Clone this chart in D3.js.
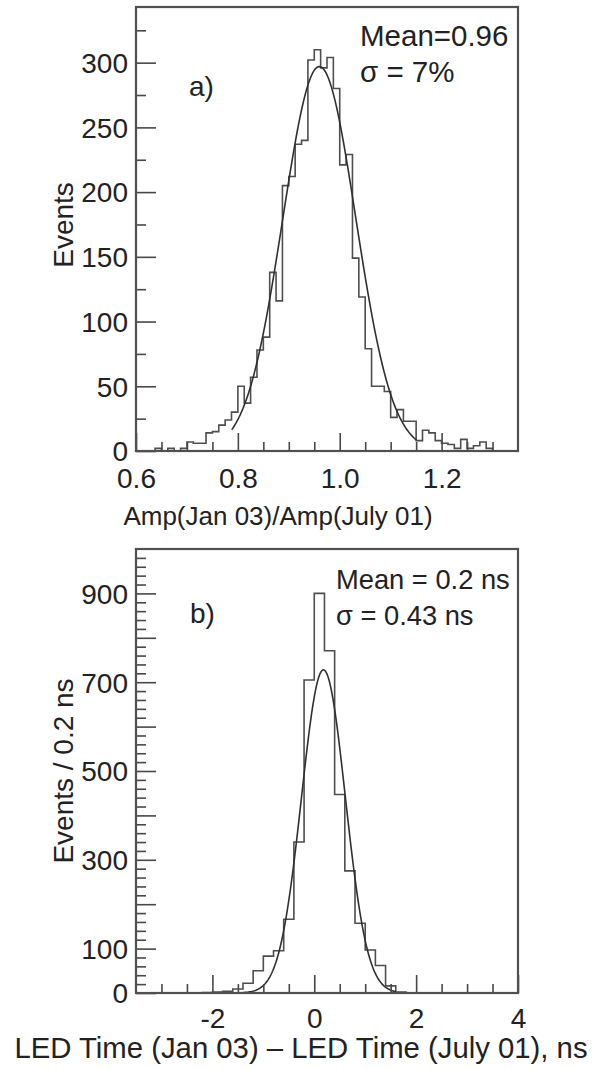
<!DOCTYPE html>
<html><head><meta charset="utf-8">
<script src="https://cdn.jsdelivr.net/npm/d3@7"></script>
<style>
html,body{margin:0;padding:0;background:#fff;}
svg{display:block;}
text{font-family:"Liberation Sans", Arial, Helvetica, sans-serif; fill:#222;}
</style></head><body>
<svg id="chart" width="592" height="1070"></svg>
<script>
// ---------- Panel a data ----------
const ampBinStart = 0.6;
const ampBinWidth = 0.0125;
const ampCounts = [0,0,0,2,0,2,0,2,7,6,6,14,15,20,24,30,50,37,57,78,88,138,116,205,212,237,240,302,310,296,304,280,221,229,149,119,79,50,50,46,26,32,23,23,8,16,14,8,6,5,2,9,2,4,7,2,0,0,0,0];
const ampFit = [297, 0.96, 0.0715, 0.788, 1.151]; // amplitude, mean, sigma, fit from, fit to
const ampXDomain = [0.6, 1.35];
const ampYDomain = [0, 343];
const ampXMajor = [0.6, 0.8, 1.0, 1.2];
const ampXLabels = ["0.6", "0.8", "1.0", "1.2"];
const ampXMinor = [0.65,0.7,0.75,0.85,0.9,0.95,1.05,1.1,1.15,1.25,1.3];
const ampYMajor = [0, 50, 100, 150, 200, 250, 300];
const ampYLabels = ["0", "50", "100", "150", "200", "250", "300"];
const ampYMinor = [25, 75, 125, 175, 225, 275, 325];
const ampStats = ["Mean=0.96", "σ = 7%"];

// ---------- Panel b data ----------
const timeBinStart = -3.4;
const timeBinWidth = 0.2;
const timeCounts = [0,0,0,0,0,0,1,2,4,9,22,50,83,95,166,340,705,900,771,447,275,157,97,62,16,2,0,0,0,0,0,0,0,0,0,0,0];
const timeFit = [728, 0.18, 0.43, -2.2, 1.6];
const timeXDomain = [-3.5, 4];
const timeYDomain = [0, 1000];
const timeXMajor = [-2, 0, 2, 4];
const timeXLabels = ["-2", "0", "2", "4"];
const timeXMinor = [-3, -2.5, -1.5, -1, -0.5, 0.5, 1, 1.5, 2.5, 3, 3.5];
const timeYMajor = [0, 100, 200, 300, 400, 500, 600, 700, 800, 900];
const timeYLabeled = [0, 100, 300, 500, 700, 900];
const timeYLabels = ["0", "100", "300", "500", "700", "900"];
const timeYMinor = d3.range(20, 1000, 20).filter(v => v % 100 !== 0);
const timeStats = ["Mean = 0.2 ns", "σ = 0.43 ns"];

const svg = d3.select("#chart");
const LINE = "#484848";

function panel(cfg) {
  const g = svg.append("g");
  const x = d3.scaleLinear().domain(cfg.xDomain).range([cfg.left, cfg.right]);
  const y = d3.scaleLinear().domain(cfg.yDomain).range([cfg.bottom, cfg.top]);

  // histogram steps
  const pts = [[cfg.binStart, 0]];
  cfg.counts.forEach((c, i) => {
    const x0 = cfg.binStart + i * cfg.binWidth, x1 = x0 + cfg.binWidth;
    pts.push([x0, c], [x1, c]);
  });
  pts.push([cfg.binStart + cfg.counts.length * cfg.binWidth, 0]);
  const clipped = pts.filter(p => p[0] >= cfg.xDomain[0] - 1e-9 && p[0] <= cfg.xDomain[1] + 1e-9);
  g.append("path")
    .attr("d", d3.line().x(d => x(d[0])).y(d => y(d[1]))(clipped))
    .attr("fill", "none").attr("stroke", "#4e4e4e").attr("stroke-width", 1.6);

  // gaussian fit
  const [A, mu, s, f0, f1] = cfg.fit;
  const fitPts = d3.range(f0, f1 + 1e-9, (f1 - f0) / 200).map(v => [v, A * Math.exp(-0.5 * ((v - mu) / s) ** 2)]);
  g.append("path")
    .attr("d", d3.line().x(d => x(d[0])).y(d => y(d[1])).curve(d3.curveLinear)(fitPts))
    .attr("fill", "none").attr("stroke", "#303030").attr("stroke-width", 1.6);

  // y axis: major with labels
  const yLab = g.append("g").attr("transform", `translate(${cfg.left},0)`)
    .call(d3.axisLeft(y).tickValues(cfg.yLabeled).tickFormat((d, i) => cfg.yLabels[i]).tickSize(0).tickPadding(8));
  yLab.select(".domain").remove();
  yLab.selectAll("text").attr("font-size", 28).attr("font-family", "Liberation Sans, Arial, sans-serif").attr("fill", "#222").attr("dy", "0.35em");

  const yMaj = g.append("g").attr("transform", `translate(${cfg.left},0)`)
    .call(d3.axisLeft(y).tickValues(cfg.yMajor).tickSize(-20).tickFormat(""));
  yMaj.select(".domain").remove();
  yMaj.selectAll("line").attr("stroke", LINE).attr("stroke-width", 1.6);

  const yMin = g.append("g").attr("transform", `translate(${cfg.left},0)`)
    .call(d3.axisLeft(y).tickValues(cfg.yMinor).tickSize(-10).tickFormat(""));
  yMin.select(".domain").remove();
  yMin.selectAll("line").attr("stroke", LINE).attr("stroke-width", 1.6);

  // x axis
  const xMaj = g.append("g").attr("transform", `translate(0,${cfg.bottom})`)
    .call(d3.axisBottom(x).tickValues(cfg.xMajor).tickSize(-18).tickFormat((d, i) => cfg.xLabels[i]));
  xMaj.select(".domain").remove();
  xMaj.selectAll("line").attr("stroke", LINE).attr("stroke-width", 1.6);
  xMaj.selectAll("text").attr("font-size", 28).attr("font-family", "Liberation Sans, Arial, sans-serif").attr("fill", "#222")
    .attr("dy", null).attr("y", cfg.xLabelOffset);

  const xMin = g.append("g").attr("transform", `translate(0,${cfg.bottom})`)
    .call(d3.axisBottom(x).tickValues(cfg.xMinor).tickSize(-9).tickFormat(""));
  xMin.select(".domain").remove();
  xMin.selectAll("line").attr("stroke", LINE).attr("stroke-width", 1.6);

  // frame
  g.append("rect").attr("x", cfg.left).attr("y", cfg.top)
    .attr("width", cfg.right - cfg.left).attr("height", cfg.bottom - cfg.top)
    .attr("fill", "none").attr("stroke", "#505050").attr("stroke-width", 2.2);

  // texts
  g.append("text").attr("x", cfg.tagX).attr("y", cfg.tagY).attr("font-size", 28).text(cfg.tag);
  g.append("text").attr("x", cfg.statX).attr("y", cfg.statY1).attr("font-size", cfg.statSize).text(cfg.stats[0]);
  g.append("text").attr("x", cfg.statX).attr("y", cfg.statY2).attr("font-size", cfg.statSize).text(cfg.stats[1]);
  g.append("text").attr("x", cfg.xTitleX).attr("y", cfg.xTitleY).attr("text-anchor", "middle")
    .attr("font-size", cfg.xTitleSize).text(cfg.xTitle);
  g.append("text").attr("transform", `translate(${cfg.yTitleX},${cfg.yTitleY}) rotate(-90)`)
    .attr("text-anchor", "middle").attr("font-size", 28).text(cfg.yTitle);
}

panel({
  left: 136, right: 518, top: 7, bottom: 451,
  xDomain: ampXDomain, yDomain: ampYDomain,
  binStart: ampBinStart, binWidth: ampBinWidth, counts: ampCounts, fit: ampFit,
  xMajor: ampXMajor, xLabels: ampXLabels, xMinor: ampXMinor, xLabelOffset: 37,
  yMajor: ampYMajor, yLabeled: ampYMajor, yLabels: ampYLabels, yMinor: ampYMinor,
  tag: "a)", tagX: 189, tagY: 96,
  stats: ampStats, statX: 360, statY1: 46, statY2: 82, statSize: 29.5,
  xTitle: "Amp(Jan 03)/Amp(July 01)", xTitleX: 278, xTitleY: 525, xTitleSize: 26,
  yTitle: "Events", yTitleX: 73, yTitleY: 225
});

panel({
  left: 136, right: 518, top: 549, bottom: 993,
  xDomain: timeXDomain, yDomain: timeYDomain,
  binStart: timeBinStart, binWidth: timeBinWidth, counts: timeCounts, fit: timeFit,
  xMajor: timeXMajor, xLabels: timeXLabels, xMinor: timeXMinor, xLabelOffset: 35,
  yMajor: timeYMajor, yLabeled: timeYLabeled, yLabels: timeYLabels, yMinor: timeYMinor,
  tag: "b)", tagX: 190, tagY: 623,
  stats: timeStats, statX: 336, statY1: 589, statY2: 625, statSize: 27.3,
  xTitle: "LED Time (Jan 03) – LED Time (July 01), ns", xTitleX: 301, xTitleY: 1058, xTitleSize: 29.3,
  yTitle: "Events / 0.2 ns", yTitleX: 73, yTitleY: 771
});
</script>
</body></html>
